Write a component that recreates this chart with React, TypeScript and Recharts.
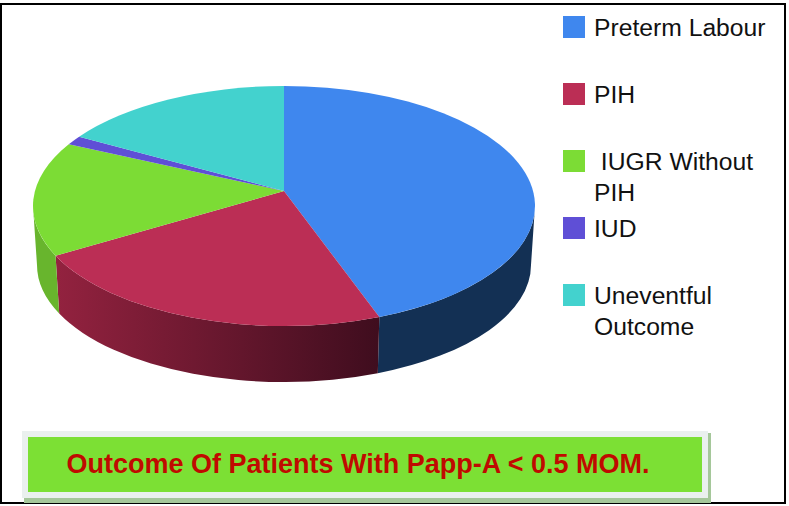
import React from "react";
import { PieChart, Pie, Legend } from "recharts";

const categories = ["Preterm Labour", "PIH", " IUGR Without PIH", "IUD", "Uneventful Outcome"];
const values = [43.8, 24.4, 15.4, 1.2, 15.2];
const topColors = ["#3F87EE", "#BB2E55", "#7CDC35", "#5F4FD6", "#43D2CE"];
const wallStart = ["#133054", "#93223F", "#68B52D", "#3A2F85", "#2A8582"];
const wallEnd = ["#133054", "#3F0D1E", "#68B52D", "#3A2F85", "#2A8582"];
const legendTops = [16, 83, 150, 217, 284];
const title = "Outcome Of Patients With Papp-A < 0.5 MOM.";

const data = categories.map((name, i) => ({ name, value: values[i], fill: topColors[i] }));

const Y_RATIO = 120 / 251;
const APEX_SHIFT = -15;
const DEPTH = 59;
const BOTTOM_RATIO = 247 / 251;
const BOTTOM_Y_RATIO = 117 / 251;

function WedgeShape(props: any) {
  const { cx, cy, outerRadius, startAngle, endAngle, index, fill } = props;
  const idx = index ?? categories.indexOf(props.name);
  const rx = outerRadius;
  const ry = outerRadius * Y_RATIO;
  const bx = outerRadius * BOTTOM_RATIO;
  const by = outerRadius * BOTTOM_Y_RATIO;
  const s = 90 - startAngle;
  const e = 90 - endAngle;
  const top = (t: number) => {
    const a = (t * Math.PI) / 180;
    return [cx + rx * Math.sin(a), cy - ry * Math.cos(a)];
  };
  const bot = (t: number) => {
    const a = (t * Math.PI) / 180;
    return [cx + bx * Math.sin(a), cy + DEPTH - by * Math.cos(a)];
  };
  const [x0, y0] = top(s);
  const [x1, y1] = top(e);
  const large = e - s > 180 ? 1 : 0;
  const face = `M${cx},${cy + APEX_SHIFT} L${x0},${y0} A${rx},${ry} 0 ${large} 1 ${x1},${y1} Z`;

  const ws = Math.max(s, 90);
  const we = Math.min(e, 270);
  let wall = null;
  if (we > ws) {
    const [a0, b0] = top(ws);
    const [a1, b1] = top(we);
    const [c1, d1] = bot(we);
    const [c0, d0] = bot(ws);
    const gid = `wall-${idx}`;
    wall = (
      <g>
        <defs>
          <linearGradient id={gid} x1="0" y1="0" x2="1" y2="0">
            <stop offset="0%" stopColor={wallStart[idx]} />
            <stop offset="100%" stopColor={wallEnd[idx]} />
          </linearGradient>
        </defs>
        <path
          d={`M${a0},${b0} A${rx},${ry} 0 0 1 ${a1},${b1} L${c1},${d1} A${bx},${by} 0 0 0 ${c0},${d0} Z`}
          fill={`url(#${gid})`}
        />
      </g>
    );
  }
  return (
    <g>
      {wall}
      <path d={face} fill={fill} />
    </g>
  );
}

function LegendBlock() {
  return (
    <div style={{ position: "relative", width: 225, height: 345 }}>
      {categories.map((name, i) => (
        <div key={name}>
          <div
            style={{
              position: "absolute",
              left: 0,
              top: legendTops[i],
              width: 22,
              height: 22,
              background: topColors[i],
            }}
          />
          <div
            style={{
              position: "absolute",
              left: 31,
              top: legendTops[i] - 4,
              width: 190,
              fontFamily: "'Liberation Sans', Arial, sans-serif",
              fontSize: 24.7,
              lineHeight: "31px",
              color: "#111",
              whiteSpace: "pre-wrap",
              textAlign: "left",
            }}
          >
            {name}
          </div>
        </div>
      ))}
    </div>
  );
}

export default function App() {
  return (
    <div style={{ position: "absolute", left: 0, top: 0, width: 789, height: 506, background: "#fff", overflow: "hidden" }}>
      <div style={{ position: "absolute", left: 0, top: 3, width: 786, height: 501, boxSizing: "border-box", border: "2.5px solid #000" }} />
      <div style={{ position: "absolute", left: 0, top: 0 }}>
        <PieChart width={789} height={506} margin={{ top: 0, right: 0, bottom: 0, left: 0 }}>
          <Pie
            data={data}
            dataKey="value"
            nameKey="name"
            cx={284}
            cy={206}
            innerRadius={0}
            outerRadius={251}
            startAngle={90}
            endAngle={-270}
            stroke="none"
            shape={WedgeShape}
            isAnimationActive={false}
            rootTabIndex={-1}
          />
          <Legend
            content={() => <LegendBlock />}
            wrapperStyle={{ position: "absolute", left: 563, top: 0, width: 225, height: 345, margin: 0 }}
          />
        </PieChart>
      </div>
      <div style={{ position: "absolute", left: 24, top: 498, width: 686, height: 5, background: "#A5C79A" }} />
      <div style={{ position: "absolute", left: 708, top: 433, width: 2.5, height: 70, background: "#A5C79A" }} />
      <div
        style={{
          position: "absolute",
          left: 22,
          top: 431,
          width: 686,
          height: 67,
          boxSizing: "border-box",
          border: "6px solid #EAF0EE",
          background: "#7CE034",
          display: "flex",
          alignItems: "center",
          justifyContent: "center",
        }}
      >
        <span
          style={{
            fontFamily: "'Liberation Sans', Arial, sans-serif",
            fontWeight: 700,
            fontSize: 27,
            color: "#C00A00",
            whiteSpace: "pre",
            position: "relative",
            left: -7,
          }}
        >
          {title}
        </span>
      </div>
    </div>
  );
}
